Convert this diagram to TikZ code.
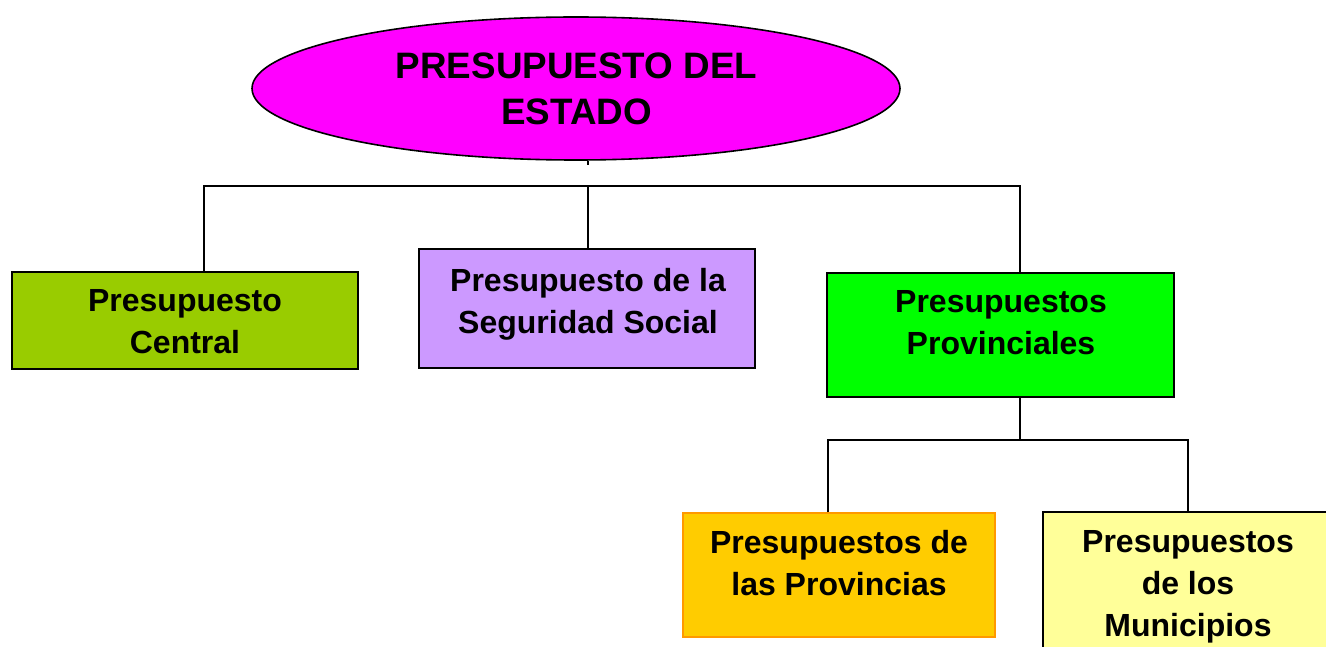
\documentclass[tikz,border=0pt]{standalone}
\usepackage{fontspec}
\setmainfont{Liberation Sans}
\usetikzlibrary{shapes.geometric}
\definecolor{cmag}{HTML}{FF00FF}
\definecolor{colive}{HTML}{99CC00}
\definecolor{clav}{HTML}{CC99FF}
\definecolor{cgreen}{HTML}{00FF00}
\definecolor{cgold}{HTML}{FFCC00}
\definecolor{corange}{HTML}{FF9900}
\definecolor{cpale}{HTML}{FFFF99}
\tikzset{
  boxnode/.style={draw=black, line width=1.8pt, rectangle, inner sep=0pt},
  lbl/.style={anchor=north, inner sep=0pt, align=center, font=\bfseries\fontsize{32}{42}\selectfont},
  conn/.style={draw=black, line width=1.6pt},
}
\begin{document}
\begin{tikzpicture}[x=1pt,y=-1pt]
\useasboundingbox (0,0) rectangle (1326,647);
\fill[white] (0,0) rectangle (1326,647);
% junctions
\coordinate (b1) at (204,186);
\coordinate (b2) at (588,186);
\coordinate (b3) at (1020,186);
\coordinate (c0) at (1020,440);
\coordinate (c4) at (828,440);
\coordinate (c5) at (1188,440);
% shapes
\node[ellipse, draw=black, fill=cmag, line width=1.6pt, minimum width=648pt, minimum height=143pt, inner sep=0pt] (top) at (576,88.5) {};
\node[boxnode, fill=colive, minimum width=346pt, minimum height=97pt] (box1) at (185,320.5) {};
\node[boxnode, fill=clav, minimum width=336pt, minimum height=119pt] (box2) at (587,308.5) {};
\node[boxnode, fill=cgreen, minimum width=347pt, minimum height=124pt] (box3) at (1000.5,335) {};
\node[boxnode, draw=corange, line width=1.5pt, fill=cgold, minimum width=312pt, minimum height=124pt] (box4) at (839,575) {};
% box 5 runs past the right and bottom edges of the picture
\node[rectangle, inner sep=0pt, fill=cpale, minimum width=283pt, minimum height=135pt] (box5) at (1184.5,579.5) {};
\draw[line width=1.8pt] (box5.south west) -- (box5.north west) -- (box5.north east);
% connectors
\draw[conn] (top.south -| b2) -- ++(0,4);
\draw[conn] (b1 |- box1.north) -- (b1) -- (b3) -- (b3 |- box3.north);
\draw[conn] (b2) -- (b2 |- box2.north);
\draw[conn] (c0 |- box3.south) -- (c0);
\draw[conn] (c4 |- box4.north) -- (c4) -- (c5) -- (c5 |- box5.north);
% texts
\node[anchor=north, inner sep=0pt, align=center, font=\bfseries\fontsize{36.8}{46}\selectfont] (t0) at (576.5,53) {PRESUPUESTO DEL\\ESTADO};
\node[lbl] (t1) at (185,289) {Presupuesto\\Central};
\node[lbl] (t2) at (588,268) {Presupuesto de la\\Seguridad Social};
\node[lbl] (t3) at (1001,290) {Presupuestos\\Provinciales};
\node[lbl] (t4) at (839,530) {Presupuestos de\\las Provincias};
\node[lbl] (t5) at (1188,530) {Presupuestos\\de los\\Municipios};
\end{tikzpicture}
\end{document}
